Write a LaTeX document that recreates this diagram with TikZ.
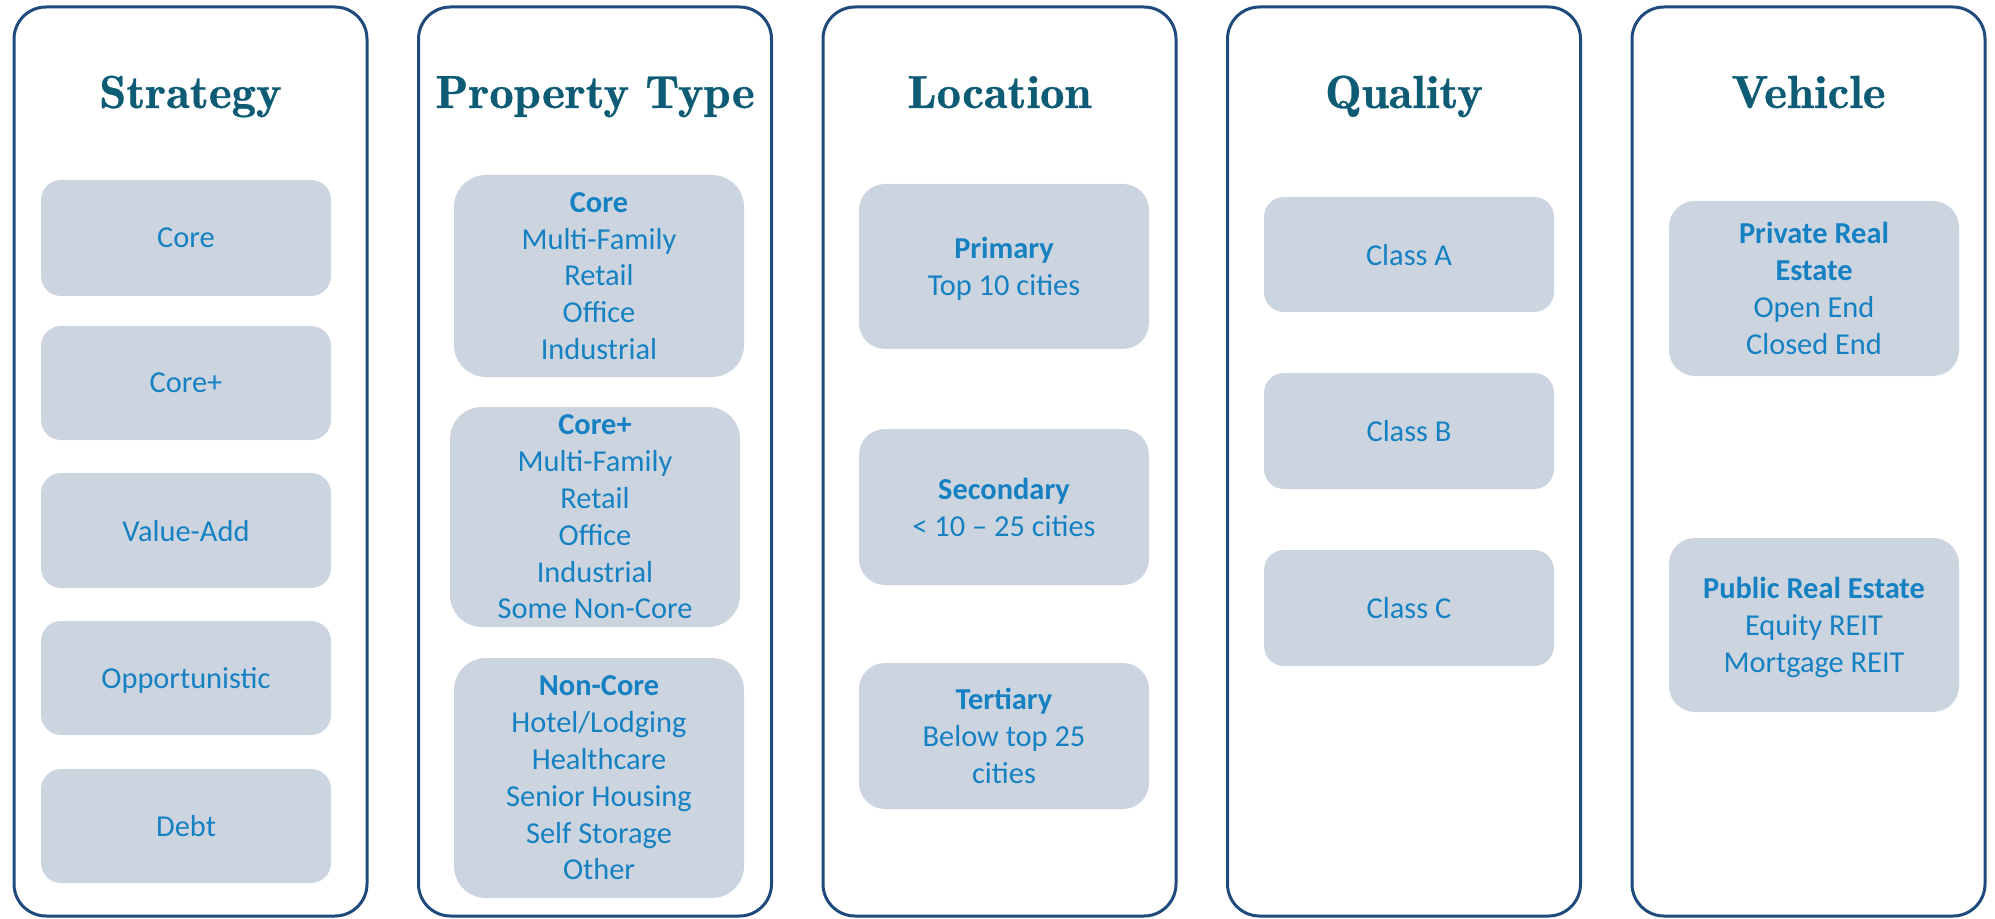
\documentclass[tikz,border=0pt]{standalone}
\usepackage{fontspec}
\newfontfamily\bodyfont{Carlito}
\newfontfamily\titlefont[FakeBold=0.6,FakeStretch=1.05]{lmromandemi10-regular.otf}
\definecolor{panelline}{HTML}{1F4A7C}
\definecolor{titleteal}{HTML}{0D5B74}
\definecolor{itemfill}{HTML}{CCD5DF}
\definecolor{itemtext}{HTML}{1581C2}

% \rbox[style]{name}{x1}{y1}{x2}{y2}{corner radius}{text}, lengths in px
\newcommand\rbox[8][]{%
  \pgfmathsetmacro\rbw{(#5-#3)*0.5}%
  \pgfmathsetmacro\rbh{(#6-#4)*0.5}%
  \pgfmathsetmacro\rbr{#7*0.5}%
  \node[#1, minimum width=\rbw pt, minimum height=\rbh pt,
        rounded corners=\rbr pt] (#2) at ({(#3+#5)/2},{(#4+#6)/2}) {#8};%
}

\tikzset{
  panel/.style={draw=panelline, line width=1.5pt, fill=none, inner sep=0pt},
  itembox/.style={fill=itemfill, draw=none, text=itemtext, align=center,
    inner sep=0pt, text depth=0pt,
    font=\bodyfont\fontsize{15.2}{18.4}\selectfont},
  paneltitle/.style={anchor=base, text=titleteal, inner sep=0pt,
    font=\titlefont\fontsize{23.2}{27}\selectfont},
}

\begin{document}
\begin{tikzpicture}[x=0.5pt, y=-0.5pt]
\useasboundingbox (0,0) rectangle (1995,919);

% five column frames
\rbox[panel]{pStrategy}{14}{7}{367}{916}{32}{}
\rbox[panel]{pType}{418.5}{7}{771.5}{916}{32}{}
\rbox[panel]{pLocation}{823}{7}{1176}{916}{32}{}
\rbox[panel]{pQuality}{1227.5}{7}{1580.5}{916}{32}{}
\rbox[panel]{pVehicle}{1632}{7}{1985}{916}{32}{}

% column headings
\node[paneltitle] (tStrategy) at (190.5,108) {Strategy};
\node[paneltitle] (tType)     at (595,108)   {Property Type};
\node[paneltitle] (tLocation) at (999.5,108) {Location};
\node[paneltitle] (tQuality)  at (1404,108)  {Quality};
\node[paneltitle] (tVehicle)  at (1808.5,108){Vehicle};

% Strategy
\rbox[itembox]{sCore}{41}{180}{331}{296}{20}{Core}
\rbox[itembox]{sCorePlus}{41}{326}{331}{440}{20}{Core+}
\rbox[itembox]{sValue}{41}{473}{331}{588}{20}{Value-Add}
\rbox[itembox]{sOpp}{41}{621}{331}{735}{20}{Opportunistic}
\rbox[itembox]{sDebt}{41}{769}{331}{883}{20}{Debt}

% Property Type
\rbox[itembox]{ptCore}{454}{175}{744}{377}{32}{\textbf{Core}\\Multi-Family\\Retail\\Office\\Industrial}
\rbox[itembox]{ptCorePlus}{450}{407}{740}{627}{32}{\textbf{Core+}\\Multi-Family\\Retail\\Office\\Industrial\\Some Non-Core}
\rbox[itembox]{ptNonCore}{454}{658}{744}{898}{32}{\textbf{Non-Core}\\Hotel/Lodging\\Healthcare\\Senior Housing\\Self Storage\\Other}

% Location
\rbox[itembox]{lPrimary}{859}{184}{1149}{349}{26}{\textbf{Primary}\\Top 10 cities}
\rbox[itembox]{lSecondary}{859}{429}{1149}{585}{26}{\textbf{Secondary}\\< 10 – 25 cities}
\rbox[itembox]{lTertiary}{859}{663}{1149}{809}{26}{\textbf{Tertiary}\\Below top 25\\cities}

% Quality
\rbox[itembox]{qA}{1264}{197}{1554}{312}{20}{Class A}
\rbox[itembox]{qB}{1264}{373}{1554}{489}{20}{Class B}
\rbox[itembox]{qC}{1264}{550}{1554}{666}{20}{Class C}

% Vehicle
\rbox[itembox]{vPrivate}{1669}{201}{1959}{376}{26}{\textbf{Private Real}\\\textbf{Estate}\\Open End\\Closed End}
\rbox[itembox]{vPublic}{1669}{538}{1959}{712}{26}{\textbf{Public Real Estate}\\Equity REIT\\Mortgage REIT}
\end{tikzpicture}
\end{document}
